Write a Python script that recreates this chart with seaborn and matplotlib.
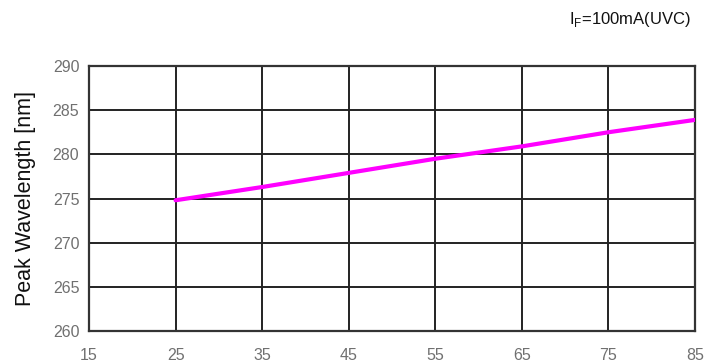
import matplotlib
matplotlib.use("Agg")
import matplotlib.pyplot as plt
import seaborn as sns
import pandas as pd

# Ambient temperature (°C) vs. peak wavelength (nm)
temperature = [25, 35, 45, 55, 65, 75, 85]
peak_wavelength = [274.8, 276.3, 277.9, 279.5, 280.9, 282.5, 283.9]

x_ticks = [15, 25, 35, 45, 55, 65, 75, 85]
y_ticks = [260, 265, 270, 275, 280, 285, 290]

sns.set_theme(style="white")
plt.rcParams["font.family"] = ["Liberation Sans Narrow", "Liberation Sans", "DejaVu Sans"]

df = pd.DataFrame({"temperature": temperature, "wavelength": peak_wavelength})

fig = plt.figure(figsize=(7.16, 3.62), dpi=100)
ax = fig.add_axes([0.1243, 0.0856, 0.8464, 0.7321])

sns.lineplot(data=df, x="temperature", y="wavelength", ax=ax,
             color="#ff00ff", linewidth=3.0, zorder=3)

ax.set_xlim(15, 85)
ax.set_ylim(260, 290)
ax.set_xticks(x_ticks)
ax.set_yticks(y_ticks)
ax.set_xticklabels([str(v) for v in x_ticks])
ax.set_yticklabels([str(v) for v in y_ticks])

ax.grid(True, color="#222222", linewidth=1.4, zorder=1)
for s in ax.spines.values():
    s.set_color("#333333")
    s.set_linewidth(1.6)

ax.tick_params(axis="both", length=0, labelsize=11.5, colors="#707070")
ax.tick_params(axis="x", pad=12)
ax.tick_params(axis="y", pad=7)

ax.set_xlabel("")
ax.set_ylabel("Peak Wavelength [nm]", fontsize=15.5, color="#111111",
              fontfamily=["Liberation Sans", "DejaVu Sans"], labelpad=12)

fig.text(0.965, 0.945, r"I$_{\mathregular{F}}$=100mA(UVC)", ha="right", va="center",
         fontsize=12, color="#111111")

fig.savefig("out.png", dpi=100, facecolor="white")
